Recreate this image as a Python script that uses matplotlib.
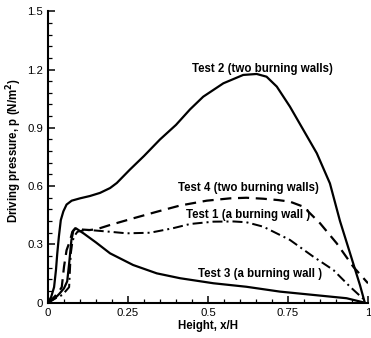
import matplotlib
matplotlib.use("Agg")
import matplotlib.pyplot as plt
from matplotlib.ticker import MultipleLocator

plt.rcParams['font.family'] = ['Liberation Sans', 'DejaVu Sans']

# Test 2 (two burning walls) - solid
t2_x = [0, 0.01, 0.019, 0.025, 0.029, 0.034, 0.04, 0.048, 0.058, 0.074, 0.10, 0.131,
        0.1625, 0.194, 0.215, 0.256, 0.30, 0.35, 0.40, 0.444, 0.485, 0.548, 0.61,
        0.652, 0.683, 0.715, 0.756, 0.798, 0.84, 0.881, 0.9125, 0.944, 0.975, 0.99]
t2_y = [0, 0.03, 0.08, 0.17, 0.254, 0.34, 0.425, 0.47, 0.505, 0.525, 0.537, 0.549,
        0.565, 0.59, 0.616, 0.685, 0.755, 0.84, 0.915, 0.995, 1.06, 1.129, 1.172,
        1.177, 1.163, 1.112, 1.009, 0.889, 0.769, 0.614, 0.42, 0.254, 0.09, 0.0]

# Test 4 (two burning walls) - dashed
t4_x = [0, 0.02, 0.034, 0.043, 0.05, 0.058, 0.069, 0.076, 0.085, 0.10, 0.13, 0.152,
        0.194, 0.266, 0.34, 0.4125, 0.496, 0.569, 0.62, 0.673, 0.72, 0.756, 0.798,
        0.85, 0.902, 0.954, 1.0]
t4_y = [0, 0.03, 0.057, 0.08, 0.185, 0.27, 0.32, 0.365, 0.383, 0.377, 0.374, 0.378,
        0.40, 0.434, 0.468, 0.50, 0.525, 0.537, 0.54, 0.535, 0.528, 0.52, 0.494,
        0.409, 0.306, 0.185, 0.10]

# Test 1 (a burning wall) - dash-dot
t1_x = [0, 0.02, 0.045, 0.066, 0.071, 0.076, 0.081, 0.092, 0.11, 0.13, 0.194, 0.246,
        0.319, 0.39, 0.444, 0.517, 0.58, 0.62, 0.673, 0.756, 0.829, 0.892, 0.944, 0.985]
t1_y = [0, 0.02, 0.04, 0.08, 0.25, 0.31, 0.34, 0.365, 0.372, 0.374, 0.365, 0.357,
        0.36, 0.383, 0.405, 0.417, 0.418, 0.414, 0.391, 0.323, 0.237, 0.168, 0.082, 0.02]

# Test 3 (a burning wall) - solid
t3_x = [0, 0.02, 0.035, 0.05, 0.06, 0.066, 0.073, 0.079, 0.087, 0.1125, 0.15, 0.194,
        0.266, 0.34, 0.4125, 0.517, 0.62, 0.725, 0.829, 0.933, 0.99]
t3_y = [0, 0.02, 0.045, 0.074, 0.11, 0.2, 0.32, 0.37, 0.383, 0.355, 0.31, 0.254,
        0.194, 0.151, 0.126, 0.10, 0.082, 0.057, 0.04, 0.023, 0.0]

labels = ["Test 2 (two burning walls)", "Test 4 (two burning walls)",
          "Test 1 (a burning wall )", "Test 3 (a burning wall )"]
label_pos = [(0.67, 1.205), (0.625, 0.59), (0.625, 0.45), (0.6625, 0.148)]

xticks = [0, 0.25, 0.5, 0.75, 1]
xticklabels = ["0", "0.25", "0.5", "0.75", "1"]
yticks = [0, 0.3, 0.6, 0.9, 1.2, 1.5]
yticklabels = ["0", "0.3", "0.6", "0.9", "1.2", "1.5"]

fig = plt.figure(figsize=(3.71, 3.38), dpi=100)
ax = fig.add_axes([48/371, 1-302.7/338, 320/371, (302.7-11.2)/338])

lw = 1.6
ax.plot(t2_x, t2_y, color='black', lw=lw, solid_capstyle='round')
ax.plot(t4_x, t4_y, color='black', lw=lw, dashes=(5, 3))
ax.plot(t1_x, t1_y, color='black', lw=lw*0.9, dashes=(5, 2, 1, 2))
ax.plot(t3_x, t3_y, color='black', lw=lw, solid_capstyle='round')

for txt, (lx, ly) in zip(labels, label_pos):
    ax.text(lx, ly, txt, ha='center', va='center', fontsize=8.3, fontweight='bold')

ax.set_xlim(0, 1)
ax.set_ylim(0, 1.5)
ax.set_xticks(xticks)
ax.set_xticklabels(xticklabels)
ax.set_yticks(yticks)
ax.set_yticklabels(yticklabels)
ax.xaxis.set_minor_locator(MultipleLocator(0.05))
ax.yaxis.set_minor_locator(MultipleLocator(0.06))
ax.tick_params(which='major', direction='in', length=5, width=1.1, labelsize=8.2, pad=3.5)
ax.tick_params(which='minor', direction='in', length=3, width=0.9)
ax.spines['top'].set_visible(False)
ax.spines['right'].set_visible(False)
for s in ('left', 'bottom'):
    ax.spines[s].set_linewidth(1.5)

ax.set_xlabel("Height, x/H", fontsize=8.3, fontweight='bold')
ax.xaxis.set_label_coords(0.5, -(320 - 302.7) / 291.5)
ax.set_ylabel("Driving pressure, p (N/m$^\\mathbf{2}$)", fontsize=8.3, fontweight='bold')
ax.yaxis.set_label_coords((24 - 48) / 320, (302.7 - 151) / 291.5)

fig.savefig("out.png", dpi=100)
